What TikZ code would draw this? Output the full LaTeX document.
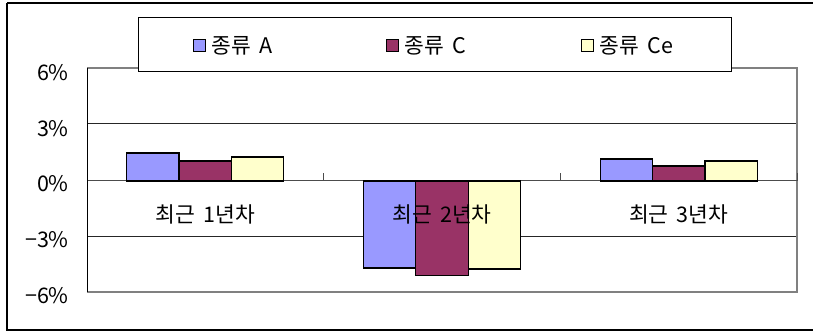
\documentclass[tikz,border=0pt]{standalone}
\usepackage{fontspec}
\setmainfont{Noto Sans CJK KR}
\usetikzlibrary{positioning}
\definecolor{serA}{HTML}{9999FF}
\definecolor{serC}{HTML}{993366}
\definecolor{serCe}{HTML}{FFFFCC}
\newcommand{\wsp}{\hspace{0.38em}}

\begin{document}
\begin{tikzpicture}[x=1pt, y=-1pt,
  every node/.style = {font=\fontsize{21.5}{26}\selectfont, inner sep=0pt},
  bar/.style = {draw=black, line width=1.3pt},
  grid/.style = {draw=black!85, line width=0.8pt},
  plotframe/.style = {draw=black!50, line width=1.5pt},
  swatch/.style = {draw=black, line width=1pt, minimum size=12pt}
]
\useasboundingbox (0,0) rectangle (813,331);
% outer frame
\draw[line width=1.5pt] (7,3) -- (815,3) (7,3) -- (7,330) -- (815,330);

% plot area and grid
\draw[grid] (87,123.3) -- (797,123.3);
\draw[grid] (87,236.7) -- (797,236.7);
\draw[plotframe] (87,68) -- (797,68) -- (797,292) -- (87,292);
\draw[line width=1pt, black!70] (87,181) -- (797,181);
\draw[line width=1pt] (87,68) -- (87,292);
\foreach \x in {323.7, 560, 797}
  \draw[line width=1pt, black!70] (\x,181) -- (\x,173);

% value axis labels
\foreach \v/\t in {6/6\%, 3/3\%, 0/0\%, -3/−3\%, -6/−6\%}
  \node[anchor=east] (tick\v) at (69,184-18.57*\v) {\t};

% bars
\foreach \i/\a/\c/\e in {0/1.51/1.08/1.29, 1/-4.69/-5.07/-4.74, 2/1.19/0.81/1.08}{
  \pgfmathsetmacro{\cx}{205.3+236.7*\i}
  \draw[bar, fill=serA]  (\cx-78.5,181) rectangle (\cx-26.2,181-18.57*\a);
  \draw[bar, fill=serC]  (\cx-26.2,181) rectangle (\cx+26.2,181-18.57*\c);
  \draw[bar, fill=serCe] (\cx+26.2,181) rectangle (\cx+78.5,181-18.57*\e);
}

% category labels
\node (year1) at (205.3,214) {최근\wsp 1년차};
\node (year2) at (442,214) {최근\wsp 2년차};
\node (year3) at (678.7,214) {최근\wsp 3년차};

% legend
\draw[fill=white, line width=1pt] (138,18) rectangle (731,72);
\node[swatch, fill=serA] (keyA) at (199,45.5) {};
\node[anchor=west, right=6pt of keyA] (nameA) {종류\wsp A};
\node[swatch, fill=serC] (keyC) at (392,45.5) {};
\node[anchor=west, right=6pt of keyC] (nameC) {종류\wsp C};
\node[swatch, fill=serCe] (keyCe) at (587,45.5) {};
\node[anchor=west, right=6pt of keyCe] (nameCe) {종류\wsp Ce};
\end{tikzpicture}
\end{document}
